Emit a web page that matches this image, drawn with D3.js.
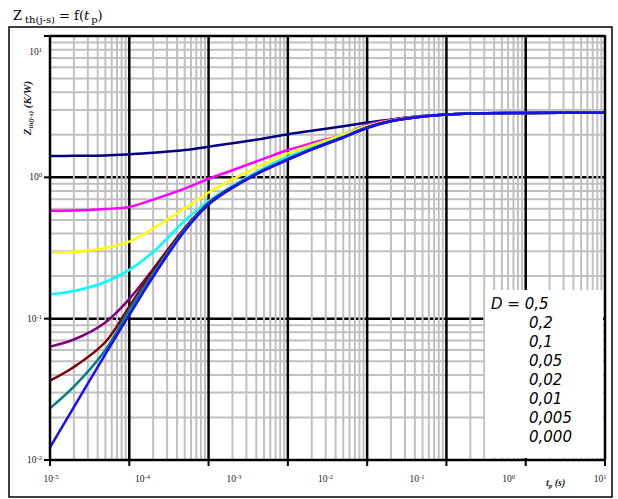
<!DOCTYPE html>
<html><head><meta charset="utf-8">
<script src="https://cdn.jsdelivr.net/npm/d3@7"></script>
<style>body{margin:0;background:#fff} svg{display:block}</style>
</head><body><svg id="c" width="618" height="499"></svg>
<script>
// ---- data ----
const tValues = [1e-5,2e-5,5e-5,1e-4,2e-4,5e-4,1e-3,2e-3,5e-3,1e-2,2e-2,5e-2,1e-1,2e-1,5e-1,1,2,10,100];
const dLabels = ["D = 0,5","0,2","0,1","0,05","0,02","0,01","0,005","0,000"];
const seriesColors = ["#000080","#ff00ff","#ffff00","#00ffff","#800080","#800000","#008080","#1a0dff"];
const zD05   = [1.416,1.42,1.43,1.456,1.491,1.561,1.648,1.744,1.883,2.02,2.135,2.301,2.44,2.57,2.716,2.784,2.829,2.852,2.867];
const zD02   = [0.581,0.582,0.597,0.617,0.696,0.832,0.977,1.123,1.355,1.56,1.741,2.013,2.35,2.55,2.695,2.784,2.829,2.852,2.867];
const zD01   = [0.2934,0.2963,0.3162,0.3505,0.4345,0.6029,0.7809,0.967,1.243,1.479,1.688,2.010,2.308,2.525,2.695,2.784,2.829,2.852,2.867];
const zD005  = [0.1488,0.157,0.1817,0.2214,0.2963,0.4928,0.680,0.871,1.161,1.400,1.618,1.945,2.271,2.504,2.695,2.784,2.829,2.852,2.867];
const zD002  = [0.0634,0.0712,0.0941,0.1378,0.2246,0.4381,0.658,0.855,1.131,1.348,1.585,1.922,2.255,2.50,2.695,2.784,2.829,2.852,2.867];
const zD001  = [0.0364,0.0455,0.0684,0.1215,0.2203,0.4345,0.653,0.852,1.127,1.341,1.582,1.920,2.25,2.50,2.695,2.784,2.829,2.852,2.867];
const zD0005 = [0.0232,0.033,0.060,0.1152,0.2087,0.4276,0.648,0.847,1.123,1.337,1.579,1.917,2.242,2.497,2.695,2.784,2.829,2.852,2.867];
const zD0    = [0.0123,0.0237,0.0562,0.1062,0.1978,0.417,0.641,0.842,1.118,1.333,1.574,1.914,2.234,2.492,2.695,2.784,2.829,2.852,2.867];
const seriesValues = [zD05,zD02,zD01,zD005,zD002,zD001,zD0005,zD0];
const xTickExps = [-5,-4,-3,-2,-1,0,1];
const yTickExps = [-2,-1,0,1];

// ---- layout ----
const svg = d3.select("#c");
const L = 50, R = 605, T = 36, B = 460;
const x = d3.scaleLog().domain([1e-5,1e2]).range([L,R]);
const y = d3.scaleLog().domain([1e-2,1e1]).range([B,T]);
const xLab = d3.scalePoint().domain(xTickExps).range([51,600]);

// outer frame
svg.append("rect").attr("x",9).attr("y",27).attr("width",603).attr("height",470)
  .attr("fill","none").attr("stroke","#000").attr("stroke-width",1.5);

// title
const title = svg.append("text").attr("x",13).attr("y",20)
  .attr("font-family","'DejaVu Serif', serif").attr("font-size",13).attr("fill","#000");
title.append("tspan").text("Z");
title.append("tspan").attr("font-size",10).attr("dy",3).attr("dx",3).text("th(j-s)");
title.append("tspan").attr("dy",-3).text(" = f(");
title.append("tspan").attr("font-style","italic").text("t");
title.append("tspan").attr("font-size",10).attr("dy",3).attr("dx",2).text("p");
title.append("tspan").attr("dy",-3).text(")");

// grids
const minorX = [], majorX = [];
for (let d=-5; d<2; d++) { for (let k=2;k<10;k++) minorX.push(k*Math.pow(10,d)); if (d>-5) majorX.push(Math.pow(10,d)); }
const minorY = [], majorY = [];
for (let d=-2; d<1; d++) { for (let k=2;k<10;k++) minorY.push(k*Math.pow(10,d)); if (d>-2) majorY.push(Math.pow(10,d)); }

const g = svg.append("g");
g.selectAll(".hm").data(minorY).enter().append("line")
  .attr("x1",L).attr("x2",R).attr("y1",d=>y(d)).attr("y2",d=>y(d))
  .attr("stroke","#c0c0c0").attr("stroke-width",2);
g.selectAll(".hM").data(majorY).enter().append("line")
  .attr("x1",L).attr("x2",R).attr("y1",d=>y(d)).attr("y2",d=>y(d))
  .attr("stroke","#000").attr("stroke-width",2.5);
g.selectAll(".vm").data(minorX).enter().append("line")
  .attr("y1",T).attr("y2",B).attr("x1",d=>x(d)).attr("x2",d=>x(d))
  .attr("stroke","#c0c0c0").attr("stroke-width",2);
g.selectAll(".vM").data(majorX).enter().append("line")
  .attr("y1",T).attr("y2",B).attr("x1",d=>x(d)).attr("x2",d=>x(d))
  .attr("stroke","#000").attr("stroke-width",2.5);

// curves
const line = d3.line().x(d=>x(d[0])).y(d=>y(d[1])).curve(d3.curveCatmullRom.alpha(0.5));
seriesValues.forEach((vals,i)=>{
  svg.append("path").datum(tValues.map((t,j)=>[t,vals[j]]))
    .attr("d",line).attr("fill","none").attr("stroke",seriesColors[i])
    .attr("stroke-width",2.5).attr("stroke-linejoin","round");
});

// legend
svg.append("rect").attr("x",485).attr("y",290).attr("width",118).attr("height",168).attr("fill","#fff");
const leg = svg.append("g").attr("font-family","'DejaVu Sans', Verdana, sans-serif")
  .attr("font-style","italic").attr("font-size",15).attr("fill","#000");
dLabels.forEach((s,i)=>{
  leg.append("text").attr("x", i===0?491:529).attr("y",309+i*19).text(s);
});

// axes frame
svg.append("line").attr("x1",L).attr("x2",R).attr("y1",T).attr("y2",T).attr("stroke","#000").attr("stroke-width",2.5);
svg.append("line").attr("x1",R).attr("x2",R).attr("y1",T-1).attr("y2",B).attr("stroke","#000").attr("stroke-width",2.5);
svg.append("line").attr("x1",L).attr("x2",L).attr("y1",T-1).attr("y2",B+1).attr("stroke","#000").attr("stroke-width",2.5);
svg.append("line").attr("x1",L-1).attr("x2",R+1).attr("y1",B).attr("y2",B).attr("stroke","#000").attr("stroke-width",2.5);

// ticks
svg.selectAll(".xt").data(xTickExps.concat([2])).enter().append("line")
  .attr("x1",d=>x(Math.pow(10,d))).attr("x2",d=>x(Math.pow(10,d))).attr("y1",B).attr("y2",B+6)
  .attr("stroke","#000").attr("stroke-width",2);
svg.selectAll(".yt").data(yTickExps).enter().append("line")
  .attr("x1",L-6).attr("x2",L).attr("y1",d=>y(Math.pow(10,d))).attr("y2",d=>y(Math.pow(10,d)))
  .attr("stroke","#000").attr("stroke-width",2);

// tick labels
const tf = "'Liberation Serif','Times New Roman',serif";
xTickExps.forEach(e=>{
  const t = svg.append("text").attr("x",xLab(e)).attr("y",482).attr("text-anchor","middle")
    .attr("font-family",tf).attr("font-size",9.5).attr("fill","#222");
  t.append("tspan").text("10");
  t.append("tspan").attr("dy",-3).attr("font-size",6.5).text(String(e));
});
yTickExps.forEach(e=>{
  const yy = Math.max(y(Math.pow(10,e)), T+16);
  const t = svg.append("text").attr("x",42).attr("y",yy+3).attr("text-anchor","end")
    .attr("font-family",tf).attr("font-size",9.5).attr("fill","#222");
  t.append("tspan").text("10");
  t.append("tspan").attr("dy",-3).attr("font-size",6.5).text(String(e));
});

// axis titles
const yt = svg.append("text").attr("transform","translate(31,108) rotate(-90)").attr("text-anchor","middle")
  .attr("font-family",tf).attr("font-weight","bold").attr("font-style","italic").attr("font-size",11).attr("fill","#222");
yt.append("tspan").text("Z");
yt.append("tspan").attr("font-size",7).attr("dy",2).text("th(j-s)");
yt.append("tspan").attr("dy",-2).text(" (K/W)");
const xt = svg.append("text").attr("x",546).attr("y",486)
  .attr("font-family",tf).attr("font-weight","bold").attr("font-style","italic").attr("font-size",10).attr("fill","#222");
xt.append("tspan").text("t");
xt.append("tspan").attr("font-size",7).attr("dy",2).text("p");
xt.append("tspan").attr("dy",-2).text(" (s)");
</script></body></html>
